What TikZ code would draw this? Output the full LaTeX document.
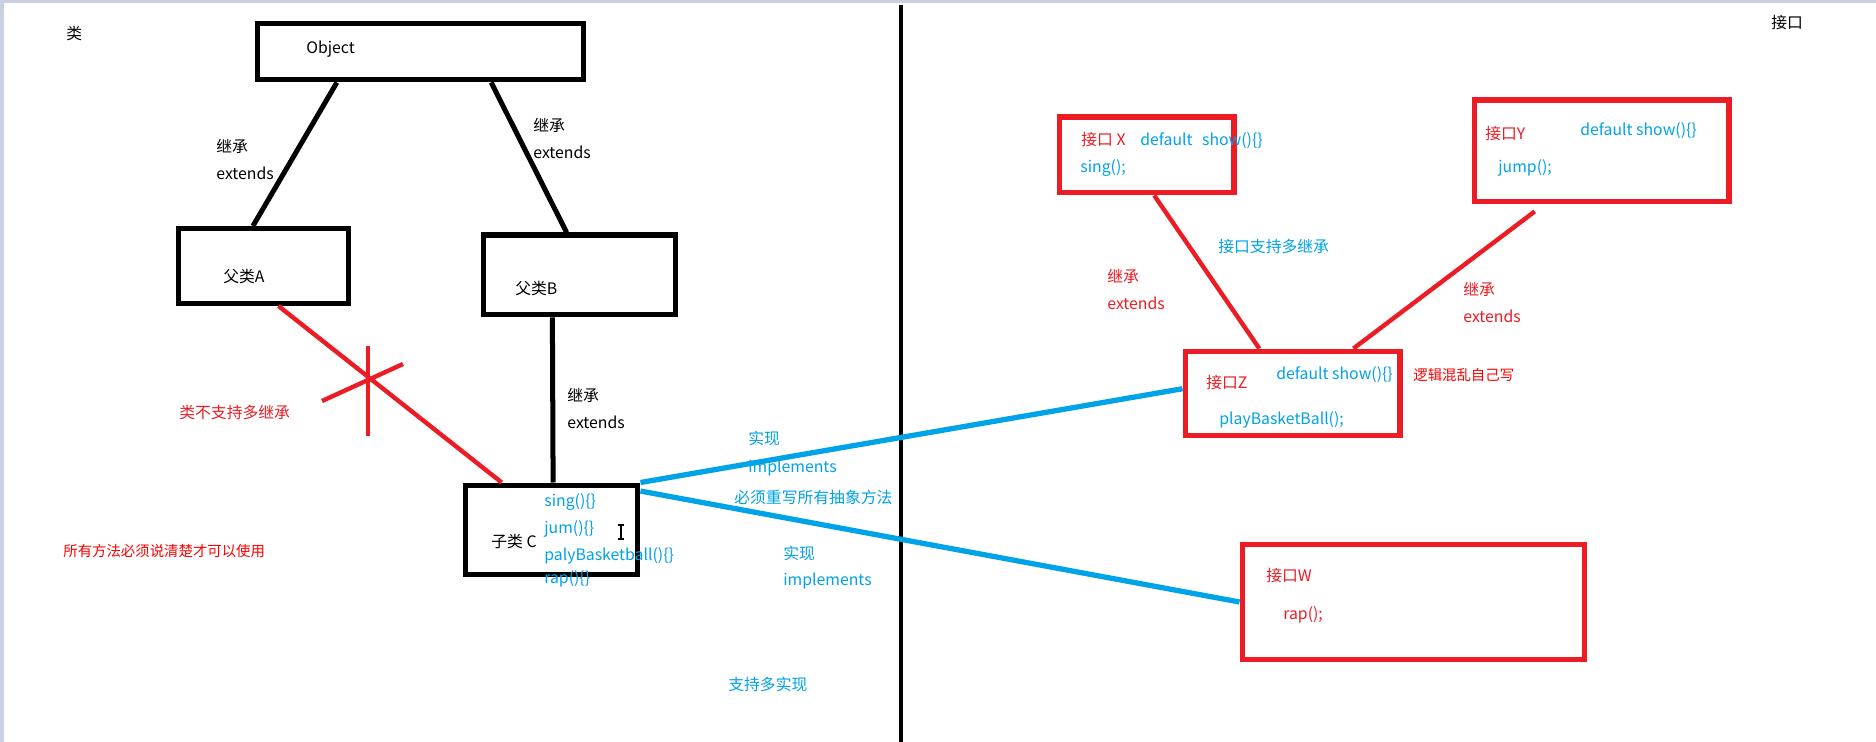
\documentclass[tikz,border=0pt]{standalone}
\usepackage{fontspec}
\setmainfont{Noto Sans CJK SC}
\usetikzlibrary{calc}
\definecolor{paintRed}{HTML}{ED1C24}
\definecolor{paintBlue}{HTML}{00A2E8}
\definecolor{pureRed}{HTML}{FF0000}
\definecolor{frameGray}{HTML}{C8D0E2}

\begin{document}
\begin{tikzpicture}[x=0.02cm, y=-0.02cm,
  box/.style={rectangle,draw=black,line width=2.85pt,inner sep=0pt},
  ifbox/.style={rectangle,draw=paintRed,line width=2.85pt,inner sep=0pt},
  txt/.style={anchor=west,inner sep=0pt,text height=0.75em,text depth=0.15em,font=\fontsize{9}{10}\selectfont},
  smalltxt/.style={txt,font=\fontsize{8.2}{9}\selectfont},
  redtxt/.style={txt,text=paintRed},
  bluetxt/.style={txt,text=paintBlue},
  blackline/.style={draw=black,line width=2.85pt},
  redline/.style={draw=paintRed,line width=2.5pt},
  blueline/.style={draw=paintBlue,line width=3pt}
]
\useasboundingbox (0,0) rectangle (1876,742);
\fill[white] (0,0) rectangle (1876,742);
\fill[frameGray] (0,0) rectangle (1876,3);
\fill[frameGray] (0,0) rectangle (4,742);

\node[box,minimum width=6.54cm,minimum height=1.13cm] (obj) at (420.5,51.75) {};
\node[box,minimum width=3.42cm,minimum height=1.5cm] (pA) at (263.5,266) {};
\node[box,minimum width=3.86cm,minimum height=1.6cm] (pB) at (579.5,275) {};
\node[box,minimum width=3.46cm,minimum height=1.8cm] (subC) at (551.5,530) {};
\node[ifbox,minimum width=3.5cm,minimum height=1.52cm] (ifX) at (1146.5,155) {};
\node[ifbox,minimum width=5.1cm,minimum height=2.04cm] (ifY) at (1601.5,151) {};
\node[ifbox,minimum width=4.3cm,minimum height=1.7cm] (ifZ) at (1292.5,393.5) {};
\node[ifbox,minimum width=6.86cm,minimum height=2.32cm] (ifW) at (1413.5,602) {};

\draw[line width=2.3pt] (901,5) -- (901,742);

\node[txt] (tCls) at (66,34) {类};
\node[txt] (tObj) at (306,48) {Object};
\node[txt] (tPA) at (223,277) {父类A};
\node[txt] (tPB) at (515,289) {父类B};
\node[txt] (tSubC) at (491,542) {子类 C};
\node[txt] (tIf) at (1771,23) {接口};
\foreach \n/\x/\y in {exA/216/147, exB/533/126, exC/567/396} {
  \node[txt] (\n1) at (\x,\y) {继承};
  \node[txt] (\n2) at (\x,\y+27) {extends};
}
\foreach \n/\x/\y in {exX/1107/277, exY/1463/290} {
  \node[redtxt] (\n1) at (\x,\y) {继承};
  \node[redtxt] (\n2) at (\x,\y+27) {extends};
}
\foreach \m/\y [count=\i] in {sing()\{\}/501, jum()\{\}/528, palyBasketball()\{\}/555, rap()\{\}/578}
  \node[bluetxt] (meth\i) at (544,\y) {\m};

\node[redtxt] (tNoMulti) at (179,413) {类不支持多继承};
\node[smalltxt,text=pureRed] (tAll) at (63,551) {所有方法必须说清楚才可以使用};
\node[bluetxt] (tImp1a) at (748,439) {实现};
\node[bluetxt] (tImp1b) at (748,467) {implements};
\node[bluetxt] (tMust) at (734,498) {必须重写所有抽象方法};
\node[bluetxt] (tImp2a) at (783,554) {实现};
\node[bluetxt] (tImp2b) at (783,580) {implements};
\node[bluetxt] (tMulti) at (728,685) {支持多实现};

\node[redtxt] (tIfX) at (1081,140) {接口 X};
\node[bluetxt] (tXdef) at (1140,140) {default\hspace{0.6em}show()\{\}};
\node[bluetxt] (tXsing) at (1080,167) {sing();};
\node[redtxt] (tIfY) at (1485,134) {接口Y};
\node[bluetxt] (tYdef) at (1580,130) {default show()\{\}};
\node[bluetxt] (tYjump) at (1498,167) {jump();};
\node[bluetxt] (tIfMulti) at (1218,247) {接口支持多继承};
\node[redtxt] (tIfZ) at (1206,383) {接口Z};
\node[bluetxt] (tZdef) at (1276,374) {default show()\{\}};
\node[bluetxt] (tZplay) at (1219,419) {playBasketBall();};
\node[smalltxt,text=pureRed] (tMess) at (1413,375) {逻辑混乱自己写};
\node[redtxt] (tIfW) at (1266,576) {接口W};
\node[redtxt] (tRap) at (1283,614) {rap();};

\draw[blackline] ($(obj.south west)!0.248!(obj.south east)$) -- ($(pA.north west)!0.44!(pA.north east)$);
\draw[blackline] ($(obj.south west)!0.713!(obj.south east)$) -- ($(pB.north west)!0.435!(pB.north east)$);
\draw[blackline] ($(pB.south west)!0.363!(pB.south east)$) -- ($(subC.north west)!0.509!(subC.north east)$);
\draw[redline] ($(pA.south west)!0.585!(pA.south east)$) -- ($(subC.north west)!0.22!(subC.north east)$);
\coordinate (cross) at (368,379);
\draw[redline] ($(cross)+(0,-33)$) -- ($(cross)+(0,57)$);
\draw[redline] ($(cross)+(-46,22)$) -- ($(cross)+(35,-15)$);
\draw[blueline] (subC.north east) -- ($(ifZ.north west)!0.447!(ifZ.south west)$);
\draw[blueline] ($(subC.north east)!0.09!(subC.south east)$) -- (ifW.west);
\draw[redline] ($(ifX.south west)!0.543!(ifX.south east)$) -- ($(ifZ.north west)!0.349!(ifZ.north east)$);
\draw[redline] ($(ifY.south west)!0.243!(ifY.south east)+(0,7)$) -- ($(ifZ.north west)!0.777!(ifZ.north east)$);

\draw[line width=0.6pt] (618,525) -- (624,525) (621,525) -- (621,539) (618,539) -- (624,539);
\end{tikzpicture}
\end{document}
